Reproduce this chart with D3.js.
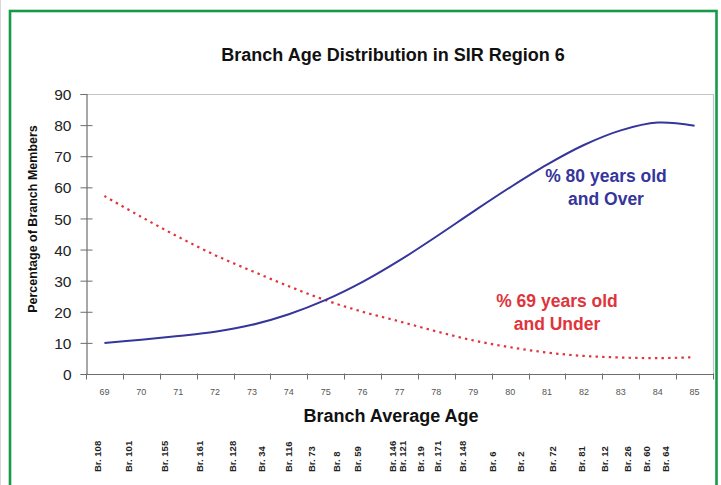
<!DOCTYPE html>
<html>
<head>
<meta charset="utf-8">
<script src="https://cdn.jsdelivr.net/npm/d3@7"></script>
<style>
body { margin: 0; background: #fff; }
svg { display: block; font-family: "Liberation Sans", Arial, sans-serif; }
</style>
</head>
<body>
<script>
// data
var ages = [69, 70, 71, 72, 73, 74, 75, 76, 77, 78, 79, 80, 81, 82, 83, 84, 85];
var pctOver80 = [10, 11, 12.2, 13.6, 15.8, 19.2, 23.8, 29.6, 36.5, 44.2, 52.2, 60, 67.3, 73.6, 78.3, 80.8, 79.8];
var pctUnder69 = [57.2, 50.5, 44.1, 38.2, 33.1, 28.2, 23.7, 20, 16.9, 13.7, 10.8, 8.6, 6.9, 5.8, 5.3, 5.1, 5.4];
var branchNames = ["Br. 108", "Br. 101", "Br. 155", "Br. 161", "Br. 128", "Br. 34", "Br. 116", "Br. 73",
	"Br. 8", "Br. 59", "Br. 146", "Br. 121", "Br. 19", "Br. 171", "Br. 148", "Br. 6", "Br. 2", "Br. 72",
	"Br. 81", "Br. 12", "Br. 26", "Br. 60", "Br. 64"];
var branchAges = [68.83, 69.67, 70.64, 71.59, 72.48, 73.27, 74.0, 74.62, 75.3, 75.87, 76.82, 77.09,
	77.58, 78.04, 78.72, 79.53, 80.29, 81.15, 81.94, 82.56, 83.18, 83.7, 84.21];
var yTicks = [0, 10, 20, 30, 40, 50, 60, 70, 80, 90];

var W = 721, H = 485;
// plot area edges ("top" is taken by window.top)
var pLeft = 86, pRight = 713, pTop = 94, pBottom = 374;

var svg = d3.select("body").append("svg")
	.attr("width", W)
	.attr("height", H);

// frame
svg.append("line").attr("x1", 0.5).attr("x2", 0.5).attr("y1", 0).attr("y2", H)
	.style("stroke", "#d8d8d8");
svg.append("rect")
	.attr("x", 10).attr("y", 11)
	.attr("width", 706.5).attr("height", H + 10)
	.style("fill", "#fff")
	.style("stroke", "#169a48")
	.style("stroke-width", 2.6);

var x = d3.scaleBand()
	.domain(ages)
	.range([pLeft, pRight])
	.padding(0);
var bw = x.bandwidth();
var xAge = d3.scaleLinear()
	.domain([69, 85])
	.range([x(69) + bw / 2, x(85) + bw / 2]);
var y = d3.scaleLinear()
	.domain([0, 90])
	.range([pBottom, pTop]);

// plot border (top & right)
svg.append("path")
	.attr("d", "M" + pLeft + "," + (pTop + 0.5) + "H" + (pRight + 0.5) + "V" + pBottom)
	.style("fill", "none")
	.style("stroke", "#c4c4c4")
	.style("stroke-width", 1.2);

// y axis
var yAxis = svg.append("g")
	.attr("transform", "translate(" + (pLeft + 0.5) + ",0)")
	.call(d3.axisLeft(y).tickValues(yTicks).tickSize(6).tickPadding(9));
yAxis.select(".domain").style("stroke", "#6e6e6e").style("stroke-width", 1.2);
yAxis.selectAll(".tick line")
	.attr("x1", function (d) { return d == 90 ? 0 : 6; })
	.attr("x2", -6)
	.style("stroke", "#6e6e6e");
yAxis.selectAll(".tick text")
	.style("font-size", "15.5px")
	.style("font-family", "'Liberation Sans', Arial, sans-serif")
	.style("fill", "#222")
	.attr("dy", "0.36em");

// x axis, ticks between categories
var xAxis = svg.append("g")
	.attr("transform", "translate(0," + (pBottom + 0.5) + ")");
xAxis.append("line")
	.attr("x1", pLeft).attr("x2", pRight + 0.5)
	.style("stroke", "#6e6e6e").style("stroke-width", 1.2);
xAxis.selectAll(".xt")
	.data(d3.range(ages.length + 1))
	.enter().append("line")
	.attr("x1", function (i) { return Math.round(pLeft + i * bw) + 0.5; })
	.attr("x2", function (i) { return Math.round(pLeft + i * bw) + 0.5; })
	.attr("y1", -1)
	.attr("y2", 5)
	.style("stroke", "#6e6e6e");
xAxis.selectAll(".xl")
	.data(ages)
	.enter().append("text")
	.attr("x", function (d) { return x(d) + bw / 2; })
	.attr("y", 20)
	.attr("text-anchor", "middle")
	.style("font-size", "9px")
	.style("fill", "#555")
	.text(function (d) { return d; });

// curves
var line = d3.line()
	.x(function (d, i) { return x(ages[i]) + bw / 2; })
	.y(function (d) { return y(d); })
	.curve(d3.curveCatmullRom.alpha(0.5));

svg.append("path")
	.datum(pctUnder69)
	.attr("d", line)
	.style("fill", "none")
	.style("stroke", "#e0343c")
	.style("stroke-width", 2.2)
	.style("stroke-dasharray", "2.4,4.2");

svg.append("path")
	.datum(pctOver80)
	.attr("d", line)
	.style("fill", "none")
	.style("stroke", "#35359c")
	.style("stroke-width", 2);

// titles
svg.append("text")
	.attr("x", 393).attr("y", 61)
	.attr("text-anchor", "middle")
	.style("font-size", "18px").style("font-weight", "bold").style("fill", "#111")
	.text("Branch Age Distribution in SIR Region 6");

svg.append("text")
	.attr("x", 391).attr("y", 422)
	.attr("text-anchor", "middle")
	.style("font-size", "18px").style("font-weight", "bold").style("fill", "#111")
	.text("Branch Average Age");

svg.append("text")
	.attr("transform", "translate(37,219) rotate(-90)")
	.attr("text-anchor", "middle")
	.style("font-size", "12.5px").style("font-weight", "bold").style("fill", "#111")
	.text("Percentage of Branch Members");

// series labels
var blueLab = svg.append("text")
	.attr("text-anchor", "middle")
	.style("font-size", "17.5px").style("font-weight", "bold").style("fill", "#35359c");
blueLab.append("tspan").attr("x", 606).attr("y", 182).text("% 80 years old");
blueLab.append("tspan").attr("x", 606).attr("y", 205).text("and Over");

var redLab = svg.append("text")
	.attr("text-anchor", "middle")
	.style("font-size", "17.5px").style("font-weight", "bold").style("fill", "#e0343c");
redLab.append("tspan").attr("x", 557).attr("y", 307).text("% 69 years old");
redLab.append("tspan").attr("x", 557).attr("y", 330).text("and Under");

// branch labels under the axis, placed by average age
svg.append("g").selectAll("text")
	.data(branchNames)
	.enter().append("text")
	.attr("transform", function (d, i) {
		return "translate(" + xAge(branchAges[i]) + ",472) rotate(-90)";
	})
	.attr("dy", "0.35em")
	.style("font-size", "9.5px").style("font-weight", "bold").style("fill", "#222")
	.text(function (d) { return d; });
</script>
</body>
</html>
